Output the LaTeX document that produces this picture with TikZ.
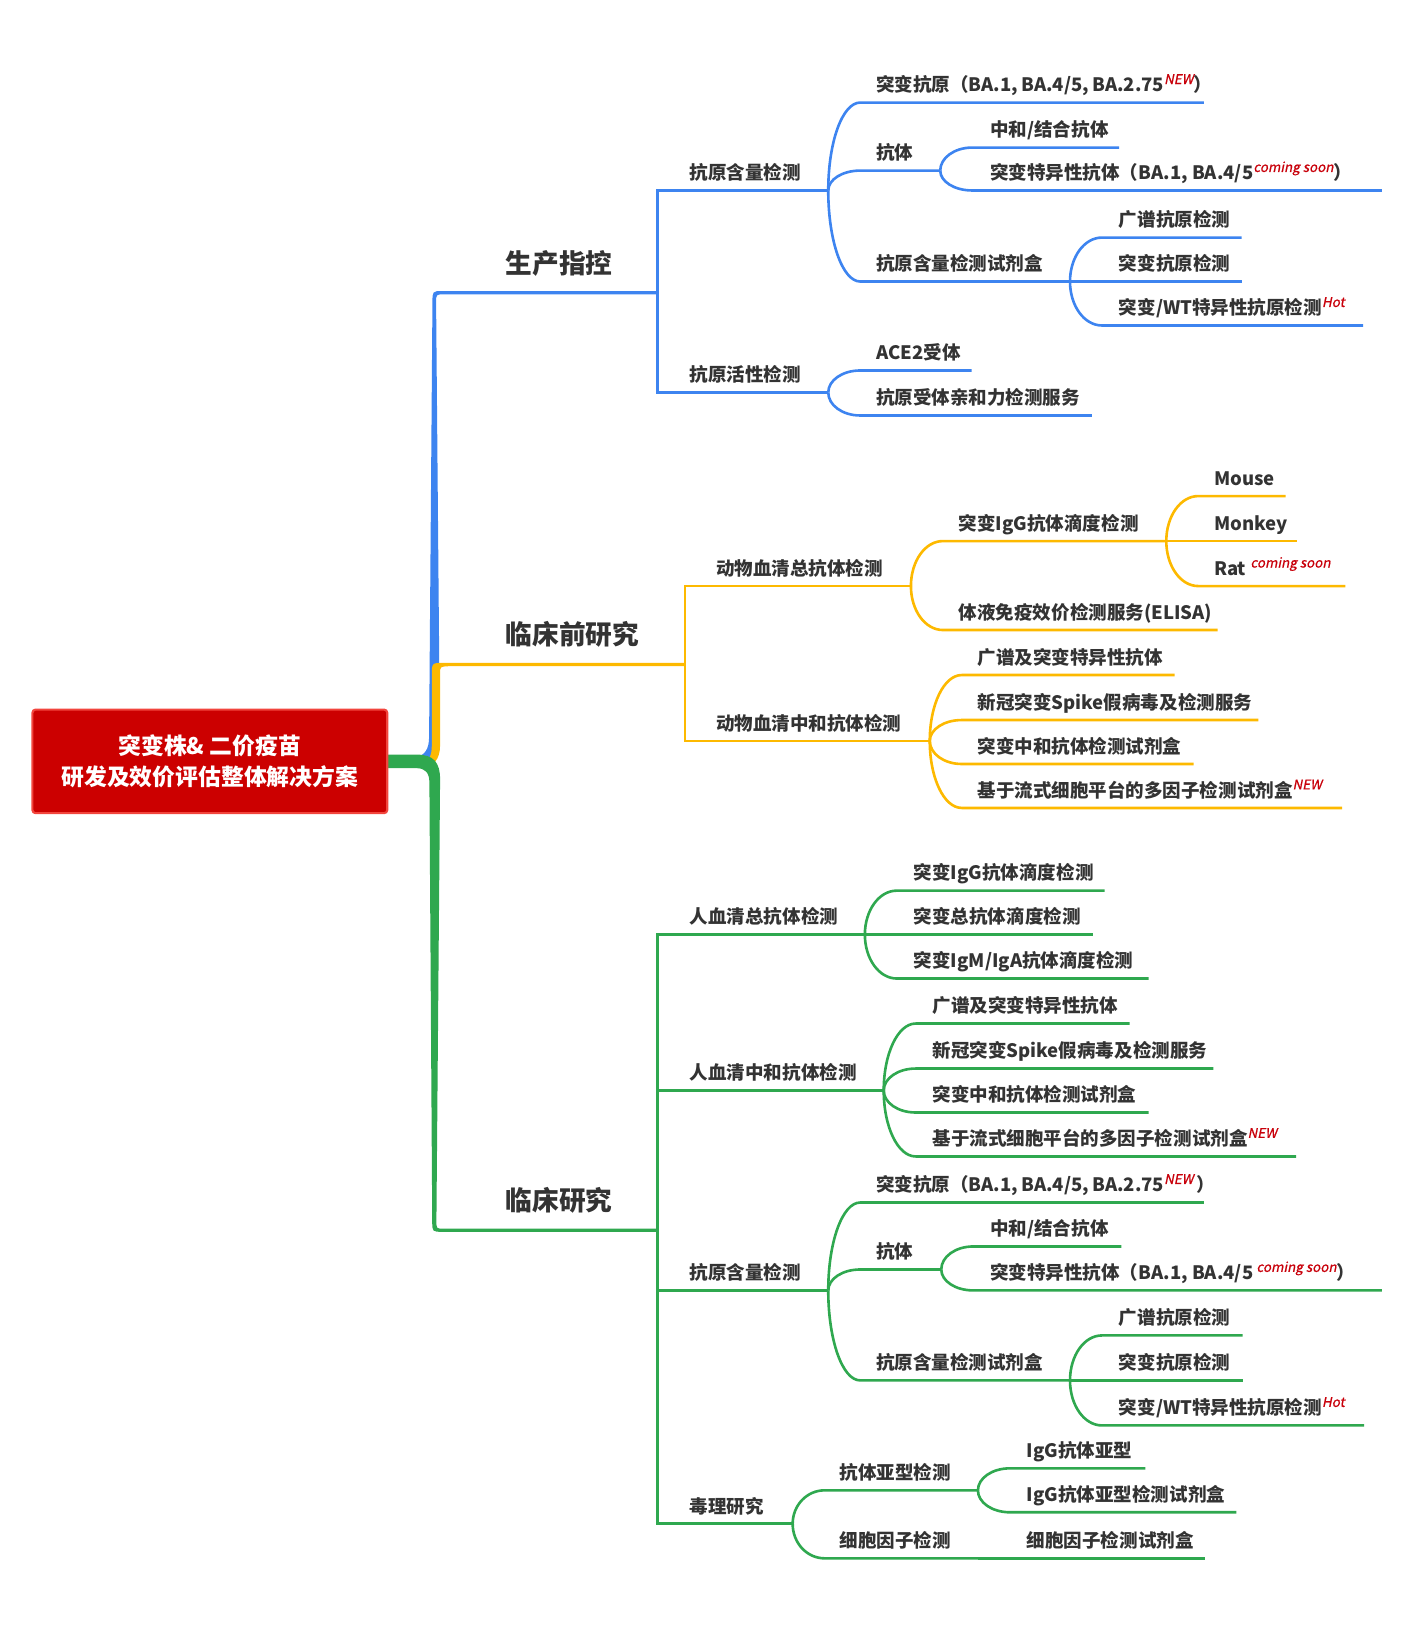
\documentclass[tikz,border=0pt]{standalone}
\usepackage{fontspec}
\setmainfont{Noto Sans CJK SC}
\newfontfamily\supfont{Noto Sans CJK SC}[FakeSlant=0.2,FakeBold=0.8]
\usetikzlibrary{calc}
\definecolor{cblue}{HTML}{3D84F0}
\definecolor{cyel}{HTML}{FDB900}
\definecolor{cgrn}{HTML}{2FA84F}
\definecolor{txt}{HTML}{333333}
\definecolor{tagred}{HTML}{C8000A}
\definecolor{rootfill}{HTML}{CC0000}
\definecolor{rootedge}{HTML}{F2453D}
\newcommand\itm[3]{\hbox to #1pt{\hskip #2pt\relax #3\hfil}}
\newcommand\supx[1]{\raisebox{7.5pt}{\supfont\mdseries\fontsize{12.8}{12.8}\selectfont\color{tagred}#1}}
\tikzset{
  item/.style={anchor=south west, inner sep=0pt, text depth=10pt, text height=16pt,
    font=\bfseries\fontsize{17.7}{17.7}\selectfont, text=txt},
  cat/.style={anchor=south west, inner sep=0pt, text depth=18.5pt, text height=24pt,
    font=\bfseries\fontsize{25.5}{25.5}\selectfont, text=txt},
  root/.style={draw=rootedge, line width=2pt, fill=rootfill, rounded corners=3pt,
    minimum width=339pt, minimum height=99pt, inner sep=0pt, text=white, align=center,
    font=\bfseries\fontsize{21.8}{29.5}\selectfont},
  lb/.style={draw=cblue, line width=2.5pt},
  ly/.style={draw=cyel, line width=2.5pt},
  lg/.style={draw=cgrn, line width=2.5pt}
}
% leaf: name, parent-end x, line y, line end x, text x, text
\newcommand\leaf[6]{\node[item] (#1) at (#2,#3) {\itm{\the\numexpr #4-#2\relax}{\the\numexpr #5-#2\relax}{#6}};}
\newcommand\kid[3]{\draw[#1] (#2.south east)
  .. controls ($(#2.south east)!0.552!(#2.south east |- #3.south west)$) and ([xshift=13.9pt]#3.south west)
  .. ([xshift=31pt]#3.south west) -- (#3.south east);}
\newcommand\sub[3]{\draw[#1] (#2.south east) -- (#2.south east |- #3.south west) -- (#3.south east);}
\begin{document}
\begin{tikzpicture}[x=1pt,y=-1pt]
\useasboundingbox (0,0) rectangle (1338,1568);
% main branches (tapered)
\fill[cblue] (396,724) .. controls (406,722) and (410,716) .. (410,704) -- (413.2,289)
  .. controls (413.2,278.1) .. (423,278.1) -- (628,278.1) -- (628,281.3) -- (424,281.3)
  .. controls (416.7,281.3) .. (416.7,289) -- (420.3,704)
  .. controls (420.3,722) and (410,728) .. (396,728) -- cycle;
\fill[cyel] (402,731) .. controls (410,728) and (412.6,722) .. (412.6,712) -- (412.6,645)
  .. controls (412.6,633.4) .. (424,633.4) -- (654,633.4) -- (654,636.4) -- (428,636.6)
  .. controls (420.5,637) .. (420.5,644) -- (420.5,712)
  .. controls (420.5,726) and (414,733) .. (402,734) -- cycle;
\fill[cgrn] (365,721) -- (398,721) .. controls (414,721) and (420.5,728) .. (420.5,745)
  -- (417,1167) .. controls (417,1174) .. (424,1174) -- (628,1174) -- (628,1177) -- (423,1177)
  .. controls (413,1177) .. (413,1167) -- (410.3,748)
  .. controls (410.3,738) and (406,734) .. (398,734) -- (365,734) -- cycle;
\node[root] (root) at (200.5,727.5) {突变株\&\ 二价疫苗\\研发及效价评估整体解决方案};
% categories
\node[cat] (c1) at (421,279.7) {\itm{207}{62}{生产指控}};
\node[cat] (c2) at (421,635) {\itm{233}{62}{临床前研究}};
\node[cat] (c3) at (421,1175.5) {\itm{207}{62}{临床研究}};
% ---- blue
\leaf{s1}{628}{182}{791}{659}{抗原含量检测}
\leaf{a1}{791}{98}{1150}{837}{突变抗原（BA.1, BA.4/5, BA.2.75\supx{NEW}）}
\leaf{a2}{791}{163}{898}{837}{抗体}
\leaf{a21}{898}{141}{1069}{946}{中和/结合抗体}
\leaf{a22}{898}{182}{1320}{946}{突变特异性抗体（BA.1, BA.4/5\supx{coming soon}）}
\leaf{a3}{791}{269}{1022}{837}{抗原含量检测试剂盒}
\leaf{a31}{1022}{227}{1186}{1069}{广谱抗原检测}
\leaf{a32}{1022}{269}{1186}{1069}{突变抗原检测}
\leaf{a33}{1022}{311}{1302}{1069}{突变/WT特异性抗原检测\supx{Hot}}
\leaf{s2}{628}{375}{791}{659}{抗原活性检测}
\leaf{b1}{791}{354}{928}{837}{ACE2受体}
\leaf{b2}{791}{397}{1043}{837}{抗原受体亲和力检测服务}
\sub{lb}{c1}{s1} \sub{lb}{c1}{s2}
\kid{lb}{s1}{a1} \kid{lb}{s1}{a2} \kid{lb}{s1}{a3}
\kid{lb}{a2}{a21} \kid{lb}{a2}{a22}
\kid{lb}{a3}{a31} \kid{lb}{a3}{a32} \kid{lb}{a3}{a33}
\kid{lb}{s2}{b1} \kid{lb}{s2}{b2}
% ---- yellow
\leaf{s3}{654}{560}{870}{684}{动物血清总抗体检测}
\leaf{y1}{870}{517}{1114}{916}{突变IgG抗体滴度检测}
\leaf{y11}{1114}{474}{1228}{1160}{Mouse}
\leaf{y12}{1114}{517}{1239}{1160}{Monkey}
\leaf{y13}{1114}{560}{1285}{1160}{Rat \supx{coming soon}}
\leaf{y2}{870}{602}{1163}{916}{体液免疫效价检测服务(ELISA)}
\leaf{s4}{654}{708}{888}{684}{动物血清中和抗体检测}
\leaf{d1}{888}{645}{1122}{934}{广谱及突变特异性抗体}
\leaf{d2}{888}{688}{1202}{934}{新冠突变Spike假病毒及检测服务}
\leaf{d3}{888}{730}{1140}{934}{突变中和抗体检测试剂盒}
\leaf{d4}{888}{772}{1282}{934}{基于流式细胞平台的多因子检测试剂盒\supx{NEW}}
\sub{ly}{c2}{s3} \sub{ly}{c2}{s4}
\kid{ly}{s3}{y1} \kid{ly}{s3}{y2}
\kid{ly}{y1}{y11} \kid{ly}{y1}{y12} \kid{ly}{y1}{y13}
\kid{ly}{s4}{d1} \kid{ly}{s4}{d2} \kid{ly}{s4}{d3} \kid{ly}{s4}{d4}
% ---- green
\leaf{s5}{628}{893}{826}{659}{人血清总抗体检测}
\leaf{e1}{826}{851}{1055}{873}{突变IgG抗体滴度检测}
\leaf{e2}{826}{893}{1044}{873}{突变总抗体滴度检测}
\leaf{e3}{826}{935}{1097}{873}{突变IgM/IgA抗体滴度检测}
\leaf{s6}{628}{1042}{844}{659}{人血清中和抗体检测}
\leaf{f1}{844}{978}{1079}{891}{广谱及突变特异性抗体}
\leaf{f2}{844}{1021}{1159}{891}{新冠突变Spike假病毒及检测服务}
\leaf{f3}{844}{1063}{1097}{891}{突变中和抗体检测试剂盒}
\leaf{f4}{844}{1105}{1238}{891}{基于流式细胞平台的多因子检测试剂盒\supx{NEW}}
\leaf{s7}{628}{1233}{791}{659}{抗原含量检测}
\leaf{g1}{791}{1149}{1150}{837}{突变抗原（BA.1, BA.4/5, BA.2.75\supx{NEW}\,）}
\leaf{g2}{791}{1213}{899}{837}{抗体}
\leaf{g21}{899}{1191}{1071}{946}{中和/结合抗体}
\leaf{g22}{899}{1233}{1320}{946}{突变特异性抗体（BA.1, BA.4/5\,\supx{coming soon}）}
\leaf{g3}{791}{1319}{1022}{837}{抗原含量检测试剂盒}
\leaf{g31}{1022}{1276}{1187}{1069}{广谱抗原检测}
\leaf{g32}{1022}{1319}{1187}{1069}{突变抗原检测}
\leaf{g33}{1022}{1362}{1303}{1069}{突变/WT特异性抗原检测\supx{Hot}}
\leaf{s8}{628}{1456}{757}{659}{毒理研究}
\leaf{h1}{757}{1424}{934}{802}{抗体亚型检测}
\leaf{h11}{934}{1403}{1094}{981}{IgG抗体亚型}
\leaf{h12}{934}{1445}{1181}{981}{IgG抗体亚型检测试剂盒}
\leaf{h2}{757}{1489}{934}{802}{细胞因子检测}
\leaf{h21}{934}{1489}{1151}{981}{细胞因子检测试剂盒}
\sub{lg}{c3}{s5} \sub{lg}{c3}{s6} \sub{lg}{c3}{s7} \sub{lg}{c3}{s8}
\kid{lg}{s5}{e1} \kid{lg}{s5}{e2} \kid{lg}{s5}{e3}
\kid{lg}{s6}{f1} \kid{lg}{s6}{f2} \kid{lg}{s6}{f3} \kid{lg}{s6}{f4}
\kid{lg}{s7}{g1} \kid{lg}{s7}{g2} \kid{lg}{s7}{g3}
\kid{lg}{g2}{g21} \kid{lg}{g2}{g22}
\kid{lg}{g3}{g31} \kid{lg}{g3}{g32} \kid{lg}{g3}{g33}
\kid{lg}{s8}{h1} \kid{lg}{s8}{h2}
\kid{lg}{h1}{h11} \kid{lg}{h1}{h12}
\kid{lg}{h2}{h21}
\end{tikzpicture}
\end{document}
